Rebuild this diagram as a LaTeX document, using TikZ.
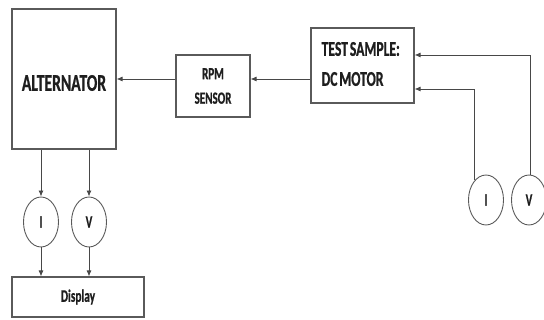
\documentclass[tikz,border=0pt]{standalone}
\usepackage{fontspec}
\setmainfont{Carlito}[FakeStretch=0.65, WordSpace=0.6, BoldFeatures={FakeBold=0.8}]
\usetikzlibrary{arrows.meta,shapes.geometric,calc}
\definecolor{edge}{HTML}{5A5A5A}
\definecolor{ink}{HTML}{1E1E1E}
\tikzset{
  block/.style={draw=edge, line width=1.1pt, rectangle, inner sep=0pt, font=\bfseries, text=ink},
  meter/.style={draw=edge, line width=0.9pt, ellipse, minimum width=35pt, minimum height=50pt, inner sep=0pt, font=\bfseries\fontsize{17}{17}\selectfont, text=ink},
  arr/.style={draw=edge!80!black, line width=0.9pt, -{Latex[length=6pt,width=5pt]}},
  caption/.style={inner sep=0pt, text=ink}
}
\begin{document}
\begin{tikzpicture}[x=1pt, y=-1pt]
  \useasboundingbox (0,0) rectangle (544,320);

  % main blocks
  \node[block, minimum width=104pt, minimum height=140pt] (alt) at (64,79) {};
  \node[caption, font=\bfseries\fontsize{24}{24}\selectfont] (altlabel) at ($(alt.center)+(0,4)$) {ALTERNATOR};
  \node[block, minimum width=74pt, minimum height=62pt, align=center, font=\bfseries\fontsize{17}{24.5}\selectfont] (rpm) at (213,86) {RPM\\SENSOR};
  \node[block, minimum width=103pt, minimum height=75pt] (test) at (362.5,65.5) {};
  \node[caption, anchor=west, align=left, font=\bfseries\fontsize{21}{30}\selectfont] (testlabel) at ($(test.west)+(11,-1.5)$) {TEST SAMPLE:\\DC MOTOR};
  \node[block, minimum width=132pt, minimum height=40pt, font=\bfseries\fontsize{17.5}{17.5}\selectfont] (disp) at (78,297) {Display};

  % meters
  \node[meter] (iL) at (41,222) {I};
  \node[meter] (vL) at (89,222) {V};
  \node[meter] (iR) at (486,200) {I};
  \node[meter] (vR) at (529,200) {V};

  % signal rows
  \coordinate (rowA) at (0,79);
  \coordinate (rowB) at (0,55);
  \coordinate (rowC) at (0,89);

  % speed chain
  \draw[arr] (test.west |- rowA) -- (rpm.east |- rowA);
  \draw[arr] (rpm.west |- rowA) -- (alt.east |- rowA);

  % supply measurement into the motor
  \draw[arr] (vR.86) |- (test.east |- rowB);
  \draw[arr] (iR.119) |- (test.east |- rowC);

  % alternator output measurement
  \draw[arr] (alt.south -| iL) -- (iL.north);
  \draw[arr] (alt.south -| vL) -- (vL.north);
  \draw[arr] (iL.south) -- (disp.north -| iL);
  \draw[arr] (vL.south) -- (disp.north -| vL);
\end{tikzpicture}
\end{document}
